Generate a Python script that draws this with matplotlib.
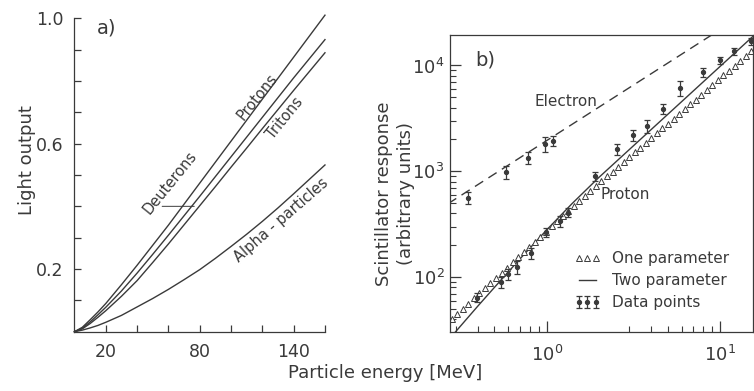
import matplotlib
matplotlib.use("Agg")
import matplotlib.pyplot as plt
from matplotlib.lines import Line2D
from matplotlib.path import Path
from matplotlib.legend_handler import HandlerTuple
from matplotlib.ticker import LogLocator, NullFormatter, FixedLocator
import numpy as np

ink = "#3a3a3a"
plt.rcParams.update({
    "font.family": ["DejaVu Sans"],
    "text.color": ink,
    "axes.edgecolor": ink,
    "axes.labelcolor": ink,
    "xtick.color": ink,
    "ytick.color": ink,
    "axes.linewidth": 0.9,
    "mathtext.default": "regular",
})

# panel a: light output vs particle energy (MeV)
energy_a = [0, 5, 10, 15, 20, 30, 40, 50, 60, 70, 80, 90, 100, 110, 120, 130, 140, 150, 160]
protons = [0, 0.014, 0.038, 0.063, 0.09, 0.15, 0.212, 0.276, 0.34, 0.407, 0.474, 0.541,
           0.608, 0.675, 0.742, 0.809, 0.876, 0.943, 1.01]
deuterons = [0, 0.011, 0.031, 0.054, 0.078, 0.13, 0.187, 0.247, 0.308, 0.370, 0.432, 0.495,
             0.558, 0.621, 0.684, 0.747, 0.81, 0.871, 0.932]
tritons = [0, 0.009, 0.026, 0.046, 0.067, 0.113, 0.163, 0.221, 0.28, 0.341, 0.402, 0.463,
           0.525, 0.586, 0.648, 0.709, 0.77, 0.83, 0.89]
alphas = [0, 0.005, 0.012, 0.02, 0.03, 0.052, 0.079, 0.106, 0.135, 0.166, 0.198, 0.234,
          0.272, 0.311, 0.352, 0.395, 0.44, 0.486, 0.532]

# panel b: scintillator response (log-log)
electron_line_e = [0.27, 10.0]
electron_line_r = [494, 21800]
electron_e = [0.353, 0.580, 0.777, 0.978, 1.092]
electron_r = [565, 985, 1345, 1800, 1930]
electron_err = [0.13, 0.14, 0.12, 0.16, 0.11]

two_par_e = [0.296, 0.4, 0.5, 0.7, 1.0, 1.4, 2.0, 3.0, 5.0, 8.0, 12.0, 15.7]
two_par_r = [30, 53, 80, 148, 279, 494, 874, 1606, 3456, 6995, 12850, 19220]

one_par_e = [0.283, 0.305, 0.328, 0.353, 0.380, 0.409, 0.441, 0.474, 0.511, 0.550,
             0.592, 0.637, 0.686, 0.738, 0.794, 0.855, 0.920, 0.991, 1.067, 1.148,
             1.236, 1.330, 1.432, 1.542, 1.660, 1.786, 1.923, 2.070, 2.228, 2.399,
             2.582, 2.780, 2.992, 3.221, 3.467, 3.733, 4.018, 4.325, 4.656, 5.012,
             5.395, 5.808, 6.252, 6.730, 7.244, 7.798, 8.395, 9.036, 9.727, 10.47,
             11.27, 12.13, 13.06, 14.06, 15.14]
one_par_r = [40.2, 44.9, 50.3, 56.2, 62.9, 70.4, 78.7, 88.0, 98.4, 110.1,
             123.1, 137.7, 154.1, 172.3, 192.8, 215.6, 241.1, 269.7, 301.6, 337.5,
             377.5, 422.1, 472.2, 528.0, 588, 653, 725, 805, 894, 992,
             1102, 1223, 1358, 1508, 1674, 1859, 2064, 2292, 2544, 2825,
             3137, 3482, 3867, 4293, 4767, 5292, 5876, 6524, 7244, 8043,
             8930, 9915, 11010, 12220, 13570]

proton_e = [0.395, 0.545, 0.600, 0.671, 0.812, 0.991, 1.193, 1.32, 1.90, 2.55,
            3.14, 3.78, 4.71, 5.85, 8.01, 10.0, 12.1, 15.0]
proton_r = [64, 90, 106, 124, 168, 264, 340, 407, 903, 1614,
            2190, 2700, 3890, 6100, 8650, 11200, 13600, 17000]
proton_err = [0.1, 0.12, 0.12, 0.14, 0.12, 0.1, 0.12, 0.1, 0.1, 0.12,
              0.12, 0.14, 0.1, 0.16, 0.1, 0.08, 0.08, 0.08]

fig = plt.figure(figsize=(7.54, 3.91), dpi=100)

# ---- panel a ----
ax_a = fig.add_axes([0.0988, 0.1517, 0.3322, 0.8015])
for vals in (protons, deuterons, tritons, alphas):
    ax_a.plot(energy_a, vals, color=ink, lw=1.0, clip_on=False)
ax_a.set_xlim(0, 160)
ax_a.set_ylim(0, 1.0)
ax_a.spines["top"].set_visible(False)
ax_a.spines["right"].set_visible(False)
ax_a.xaxis.set_major_locator(FixedLocator([20, 80, 140]))
ax_a.xaxis.set_minor_locator(FixedLocator(list(range(40, 161, 20))))
ax_a.yaxis.set_major_locator(FixedLocator([0.2, 0.6, 1.0]))
ax_a.yaxis.set_minor_locator(FixedLocator([0.1, 0.3, 0.4, 0.5, 0.7, 0.8, 0.9]))
ax_a.set_xticklabels(["20", "80", "140"])
ax_a.set_yticklabels(["0.2", "0.6", "1.0"])
ax_a.tick_params(which="both", direction="in", length=5, width=0.9, labelsize=12.5, pad=8)

ax_a.text(0.09, 0.97, "a)", transform=ax_a.transAxes, fontsize=14, ha="left", va="center")
ax_a.text(117, 0.75, "Protons", rotation=51, ha="center", va="center", fontsize=10.5,
          rotation_mode="anchor")
ax_a.text(134.5, 0.68, "Tritons", rotation=51, ha="center", va="center", fontsize=10.5,
          rotation_mode="anchor")
ax_a.text(61, 0.475, "Deuterons", rotation=51, ha="center", va="center", fontsize=10.5,
          rotation_mode="anchor")
ax_a.text(132, 0.355, "Alpha - particles", rotation=41, ha="center", va="center",
          fontsize=10.5, rotation_mode="anchor")
ax_a.annotate("", xy=(76.5, 0.4), xytext=(56, 0.4),
              arrowprops=dict(arrowstyle="-", color=ink, lw=0.7, shrinkA=0, shrinkB=0))

fig.text(0.036, 0.59, "Light output", rotation=90, ha="center", va="center", fontsize=13)

# ---- panel b ----
ax_b = fig.add_axes([0.5968, 0.1509, 0.4019, 0.7596])
ax_b.set_xscale("log")
ax_b.set_yscale("log")
ax_b.plot(electron_line_e, electron_line_r, color=ink, lw=1.0, dashes=(7, 4.5))
ax_b.plot(two_par_e, two_par_r, color=ink, lw=1.0)
ax_b.plot(one_par_e, one_par_r, ls="none", marker="^", ms=4.8, mfc="white",
          mec=ink, mew=0.7)
e_r = np.array(electron_r, dtype=float)
e_err = e_r * np.array(electron_err)
ax_b.errorbar(electron_e, electron_r, yerr=[e_err, e_err], fmt="o", ms=2.8, color=ink,
              elinewidth=0.9, capsize=2.5, capthick=0.9)
p_r = np.array(proton_r, dtype=float)
p_err = p_r * np.array(proton_err)
ax_b.errorbar(proton_e, proton_r, yerr=[p_err, p_err], fmt="o", ms=2.8, color=ink,
              elinewidth=0.9, capsize=2.5, capthick=0.9)

ax_b.set_xlim(0.277, 15.5)
ax_b.set_ylim(30.3, 19400)
ax_b.xaxis.set_major_locator(LogLocator(base=10, numticks=10))
ax_b.xaxis.set_minor_locator(LogLocator(base=10, subs=(3, 4, 5, 6, 7, 8, 9), numticks=10))
ax_b.xaxis.set_minor_formatter(NullFormatter())
ax_b.yaxis.set_minor_locator(LogLocator(base=10, subs=tuple(range(2, 10)), numticks=10))
ax_b.yaxis.set_minor_formatter(NullFormatter())
ax_b.tick_params(which="major", direction="in", length=8, width=0.9, labelsize=13, pad=4)
ax_b.tick_params(which="minor", direction="in", length=4.5, width=0.8)
ax_b.tick_params(axis="x", which="major", pad=9)

ax_b.text(0.115, 0.915, "b)", transform=ax_b.transAxes, fontsize=14, ha="center", va="center")
ax_b.text(1.29, 4530, "Electron", fontsize=11, ha="center", va="center")
ax_b.text(2.83, 607, "Proton", fontsize=11, ha="center", va="center")

ebar_path = Path([(-0.5, 1), (0.5, 1), (0, 1), (0, -1), (-0.5, -1), (0.5, -1)],
                 [Path.MOVETO, Path.LINETO, Path.MOVETO, Path.LINETO, Path.MOVETO, Path.LINETO])
h_tri = Line2D([], [], ls="none", marker="^", ms=4.8, mfc="white", mec=ink, mew=0.7)
h_line = Line2D([], [], color=ink, lw=1.0)
h_bar = Line2D([], [], ls="none", marker=ebar_path, ms=8, mfc="none", mec=ink, mew=0.9)
h_dot = Line2D([], [], ls="none", marker="o", ms=2.8, color=ink)
ax_b.legend([h_tri, h_line, (h_bar, h_dot)],
            ["One parameter", "Two parameter", "Data points"],
            handler_map={tuple: HandlerTuple(ndivide=1)},
            numpoints=3, frameon=False, fontsize=11, loc="upper left",
            bbox_to_anchor=(0.41, 0.272), borderpad=0, borderaxespad=0,
            handlelength=1.7, handletextpad=0.8, labelspacing=0.45)

fig.text(0.524, 0.505, "Scintillator response\n(arbitrary units)", rotation=90,
         ha="center", va="center", fontsize=13, multialignment="center", linespacing=1.3)

fig.text(0.511, 0.046, "Particle energy [MeV]", ha="center", va="center", fontsize=13)

fig.savefig("out.png", dpi=100, facecolor="white")
